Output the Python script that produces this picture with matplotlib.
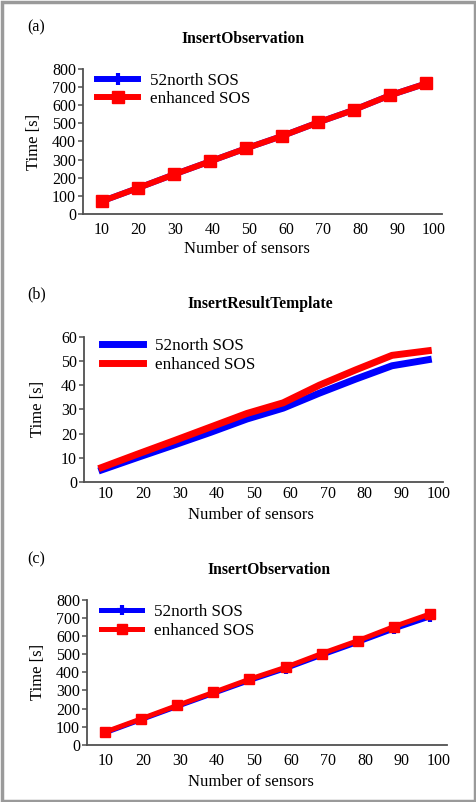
import matplotlib
matplotlib.use('Agg')
import matplotlib.pyplot as plt
from matplotlib.patches import Rectangle

plt.rcParams['font.family'] = ['Liberation Serif', 'DejaVu Serif']

sensors = [10, 20, 30, 40, 50, 60, 70, 80, 90, 100]

# (a) InsertObservation
obs_a_52north = [70, 143, 218, 290, 362, 430, 505, 575, 655, 720]
obs_a_enhanced = [70, 143, 218, 290, 362, 430, 505, 575, 655, 720]

# (b) InsertResultTemplate
tmpl_52north = [5.0, 10.2, 15.3, 20.5, 26.0, 30.5, 36.7, 42.5, 48.0, 50.5]
tmpl_enhanced = [6.0, 11.6, 17.1, 22.7, 28.3, 32.7, 40.0, 46.3, 52.3, 54.2]

# (c) InsertObservation
obs_c_52north = [66, 139, 212, 284, 355, 421, 495, 566, 640, 707]
obs_c_enhanced = [70, 143, 217, 289, 362, 428, 504, 575, 653, 723]

W, H = 476, 802
fig = plt.figure(figsize=(W / 100, H / 100), dpi=100)

def px_rect(left, right, top, bottom):
    return [left / W, 1 - bottom / H, (right - left) / W, (bottom - top) / H]

def panel(rect, tag, title, title_x, title_y, tag_y, s52, senh, ymax, ystep,
          xlim, xticks_pos, markers, lw, ms, leg_anchor, xpad, ylab_x, xlab_xy):
    ax = fig.add_axes(rect)
    if markers:
        ax.plot(sensors, s52, color='#0000ff', lw=lw, marker='+', ms=ms, mew=3,
                label='52north SOS', solid_joinstyle='miter')
        ax.plot(sensors, senh, color='#ff0000', lw=lw, marker='s', ms=ms,
                label='enhanced SOS', solid_joinstyle='miter')
    else:
        ax.plot(sensors, s52, color='#0000ff', lw=lw, label='52north SOS')
        ax.plot(sensors, senh, color='#ff0000', lw=lw, label='enhanced SOS')
    ax.set_xlim(*xlim)
    ax.set_ylim(0, ymax)
    ax.set_yticks(range(0, ymax + 1, ystep))
    ax.set_xticks(xticks_pos)
    ax.set_xticklabels([str(s) for s in sensors])
    for side in ['top', 'right']:
        ax.spines[side].set_visible(False)
    for side in ['left', 'bottom']:
        ax.spines[side].set_color('#505050')
        ax.spines[side].set_linewidth(1.3)
    ax.tick_params(axis='x', length=0, pad=xpad, labelsize=11.5)
    ax.tick_params(axis='y', length=3.5, width=1.1, color='#505050', pad=1.5,
                   labelsize=11.5)
    ax.set_ylabel('Time [s]', fontsize=12)
    ax.yaxis.set_label_coords(ylab_x, 0.5)
    ax.yaxis.label.set_va('center')
    ax.set_xlabel('Number of sensors', fontsize=12)
    ax.xaxis.set_label_coords(*xlab_xy)
    ax.xaxis.label.set_va('center')
    ax.legend(loc='upper left', bbox_to_anchor=leg_anchor, frameon=False,
              fontsize=12.3, handlelength=2.4, handletextpad=0.7,
              labelspacing=0.15, borderpad=0, borderaxespad=0)
    fig.text(title_x / W, 1 - title_y / H, title, ha='center', va='center',
             fontsize=11.3, fontweight='bold')
    fig.text(27 / W, 1 - tag_y / H, tag, ha='left', va='center', fontsize=11.5)
    return ax

panel(px_rect(83, 442, 69, 214), '(a)', 'InsertObservation', 243, 39, 27,
      obs_a_52north, obs_a_enhanced, 800, 100, (4.8, 104.4),
      [10 + i * 10.24 for i in range(10)], True, 4.3, 8, (0.04, 0.975),
      6.0, -0.136, (0.457, -0.241))

panel(px_rect(84, 443, 336.7, 482), '(b)', 'InsertResultTemplate', 260, 304, 294,
      tmpl_52north, tmpl_enhanced, 60, 10, (5.1, 104.05),
      [11.2 + i * 10.17 for i in range(10)], False, 5, 0, (0.05, 0.99),
      3, -0.128, (0.465, -0.227))

panel(px_rect(87, 447, 600, 744.7), '(c)', 'InsertObservation', 269, 570, 559,
      obs_c_52north, obs_c_enhanced, 800, 100, (5.0, 104.7),
      [10.3 + i * 10.24 for i in range(10)], True, 3.6, 7.5, (0.04, 0.97),
      6.0, -0.136, (0.456, -0.258))

# grey frame around the whole figure
fig.patches.append(Rectangle((1.5 / W, 1.5 / H), 1 - 3 / W, 1 - 3 / H,
                             transform=fig.transFigure, fill=False,
                             edgecolor='#9a9a9a', linewidth=2.5))

fig.savefig('out.png', dpi=100)
